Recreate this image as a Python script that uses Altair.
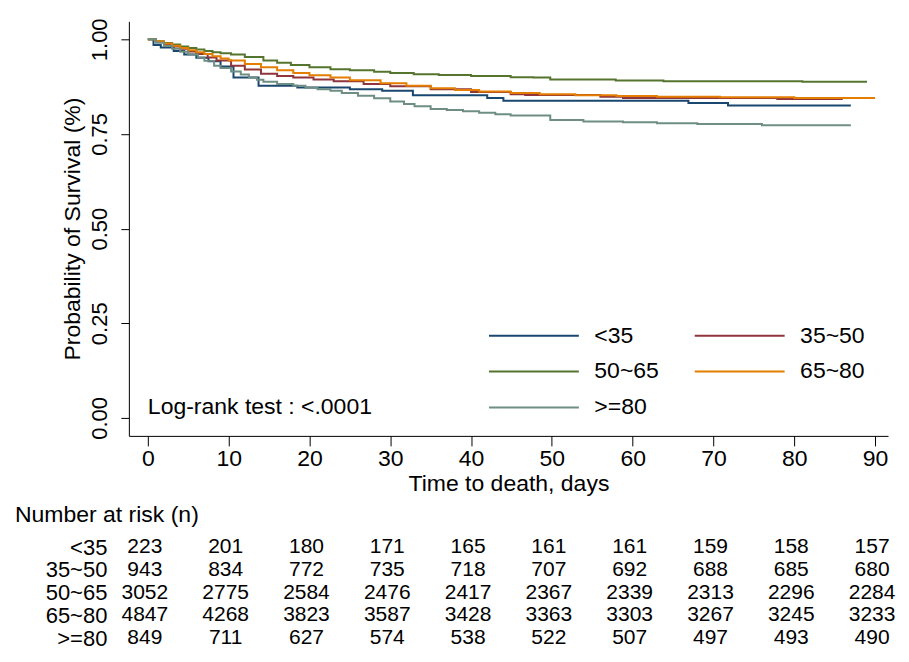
import altair as alt
import pandas as pd

FONT = "Liberation Sans"

groups = ["<35", "35~50", "50~65", "65~80", ">=80"]
colors = ["#1a476f", "#90353b", "#55752f", "#e37e00", "#6e8e84"]

# Kaplan-Meier step points (day, survival)
days_lt35 = [0, 0.7, 1.6, 3.2, 4.5, 6, 7.5, 9, 10.6, 13.7, 18.5, 25, 29, 32.8, 42, 44, 66.9, 71.8, 87]
surv_lt35 = [1.0, 0.985, 0.978, 0.969, 0.960, 0.951, 0.942, 0.928, 0.899, 0.877, 0.873, 0.868, 0.864, 0.852, 0.845, 0.838, 0.832, 0.825, 0.825]

days_35_50 = [0, 1, 2, 3, 4, 5, 6, 7.4, 8.5, 10.3, 12, 14, 16, 18, 20.5, 23, 26.7, 30, 35, 40, 44.9, 46.7, 56, 58.8, 77.9, 86]
surv_35_50 = [1.0, 0.993, 0.987, 0.981, 0.975, 0.968, 0.961, 0.952, 0.944, 0.930, 0.920, 0.909, 0.903, 0.899, 0.894, 0.889, 0.882, 0.876, 0.868, 0.861, 0.855, 0.853, 0.848, 0.845, 0.842, 0.842]

days_50_65 = [0, 1, 2, 3, 4, 5, 6, 7, 8, 9, 10.3, 12, 14.3, 16, 17.7, 20, 22.6, 25, 28, 30, 32.9, 36, 40, 44.9, 47.7, 49.8, 57.9, 63.8, 81, 89]
surv_50_65 = [1.0, 0.995, 0.990, 0.986, 0.981, 0.977, 0.973, 0.969, 0.966, 0.963, 0.960, 0.953, 0.944, 0.938, 0.932, 0.926, 0.921, 0.918, 0.914, 0.911, 0.908, 0.906, 0.903, 0.900, 0.899, 0.894, 0.891, 0.889, 0.888, 0.888]

days_65_80 = [0, 1, 2, 3, 4, 5, 6, 7, 8, 9, 10, 12, 14, 16, 18, 20, 22.6, 25, 28.8, 32, 35, 38, 41, 44.9, 48.5, 52.9, 58, 63, 70.8, 80, 90]
surv_65_80 = [1.0, 0.995, 0.989, 0.983, 0.977, 0.971, 0.966, 0.961, 0.955, 0.949, 0.944, 0.935, 0.926, 0.918, 0.911, 0.905, 0.899, 0.892, 0.884, 0.877, 0.871, 0.866, 0.862, 0.858, 0.855, 0.852, 0.850, 0.848, 0.847, 0.845, 0.845]

days_ge80 = [0, 1, 2, 3, 4, 5, 6.2, 7, 8.2, 9, 10.3, 11.5, 12.5, 13.5, 14.3, 16, 18, 19.5, 21, 22.6, 24, 26, 28, 30, 31.7, 33, 35, 37, 39, 41, 43, 44.9, 49.8, 53.9, 58.8, 63, 68, 76, 87]
surv_ge80 = [1.0, 0.991, 0.982, 0.975, 0.967, 0.960, 0.952, 0.943, 0.930, 0.924, 0.915, 0.907, 0.899, 0.893, 0.888, 0.882, 0.877, 0.872, 0.868, 0.864, 0.858, 0.851, 0.844, 0.836, 0.829, 0.823, 0.816, 0.813, 0.810, 0.806, 0.802, 0.799, 0.787, 0.783, 0.781, 0.778, 0.776, 0.773, 0.773]

# Number at risk table
risk_days = [0, 10, 20, 30, 40, 50, 60, 70, 80, 90]
risk_lt35 = [223, 201, 180, 171, 165, 161, 161, 159, 158, 157]
risk_35_50 = [943, 834, 772, 735, 718, 707, 692, 688, 685, 680]
risk_50_65 = [3052, 2775, 2584, 2476, 2417, 2367, 2339, 2313, 2296, 2284]
risk_65_80 = [4847, 4268, 3823, 3587, 3428, 3363, 3303, 3267, 3245, 3233]
risk_ge80 = [849, 711, 627, 574, 538, 522, 507, 497, 493, 490]

x_ticks = [0, 10, 20, 30, 40, 50, 60, 70, 80, 90]
y_ticks = [0, 0.25, 0.5, 0.75, 1.0]
annot_text = "Log-rank test : <.0001"

km_series = [(days_lt35, surv_lt35), (days_35_50, surv_35_50), (days_50_65, surv_50_65),
             (days_65_80, surv_65_80), (days_ge80, surv_ge80)]
rows = []
for g, (d, s) in zip(groups, km_series):
    for di, si in zip(d, s):
        rows.append({"group": g, "day": di, "surv": si})
km_df = pd.DataFrame(rows)

risk_series = [risk_lt35, risk_35_50, risk_50_65, risk_65_80, risk_ge80]
rrows = []
for g, vals in zip(groups, risk_series):
    for di, v in zip(risk_days, vals):
        rrows.append({"group": g, "day": di, "n": str(v)})
risk_df = pd.DataFrame(rrows)

W = 760
H = 415
FS = 23
x_scale = alt.Scale(domain=[-2.35, 91.6], nice=False, zero=False)
y_scale = alt.Scale(domain=[-0.0474, 1.0474], nice=False, zero=False)

lines = alt.Chart(km_df).mark_line(interpolate="step-after", strokeWidth=2).encode(
    x=alt.X("day:Q", scale=x_scale,
            axis=alt.Axis(values=x_ticks, title="Time to death, days", tickSize=10,
                          labelFontSize=FS, titleFontSize=FS, labelPadding=2, titlePadding=2,
                          titleFontWeight="normal", grid=False, domainColor="black",
                          tickColor="black", labelColor="black", titleColor="black",
                          labelFont=FONT, titleFont=FONT)),
    y=alt.Y("surv:Q", scale=y_scale,
            axis=alt.Axis(values=y_ticks, format=".2f", title="Probability of Survival (%)",
                          tickSize=8, labelAngle=270, labelAlign="center", labelBaseline="alphabetic",
                          labelFontSize=22, titleFontSize=FS, labelPadding=14, titlePadding=4,
                          titleFontWeight="normal", grid=False, domainColor="black",
                          tickColor="black", labelColor="black", titleColor="black",
                          labelFont=FONT, titleFont=FONT)),
    color=alt.Color("group:N", scale=alt.Scale(domain=groups, range=colors),
                    legend=alt.Legend(title=None, orient="none", legendX=430, legendY=303,
                                      columns=2, direction="horizontal", padding=0,
                                      symbolType="M-9,0H1", symbolSize=324,
                                      symbolStrokeWidth=2, labelFontSize=FS, labelFont=FONT,
                                      labelColor="black", labelOffset=13, columnPadding=31,
                                      rowPadding=12)),
)

annot_df = pd.DataFrame({"day": [0], "surv": [0.03], "label": [annot_text]})
annot = alt.Chart(annot_df).mark_text(align="left", baseline="middle", fontSize=FS,
                                      font=FONT, color="black").encode(
    x=alt.X("day:Q", scale=x_scale), y=alt.Y("surv:Q", scale=y_scale), text="label:N")

km = alt.layer(lines, annot).properties(width=W, height=H)

table = alt.Chart(risk_df).mark_text(fontSize=21, font=FONT, color="black", align="center",
                                     baseline="middle", dx=-3).encode(
    x=alt.X("day:Q", scale=x_scale, axis=None),
    y=alt.Y("group:N", sort=groups,
            axis=alt.Axis(title=None, ticks=False, domain=False, grid=False, labelFontSize=22,
                          labelFont=FONT, labelColor="black", labelPadding=22, labelAlign="right")),
    text="n:N",
).properties(width=W, height=114,
             title=alt.TitleParams("Number at risk (n)", anchor="start", frame="group", dx=-114,
                                   fontSize=FS, font=FONT, fontWeight="normal", color="black",
                                   offset=9))

chart = alt.vconcat(km, table, spacing=100, bounds="flush").properties(
    padding={"left": 7, "top": 9, "right": 5, "bottom": 2}
).configure(font=FONT, view=alt.ViewConfig(stroke="transparent", strokeWidth=0))

chart.save("out.html", embed_options={"renderer": "svg", "actions": False})
